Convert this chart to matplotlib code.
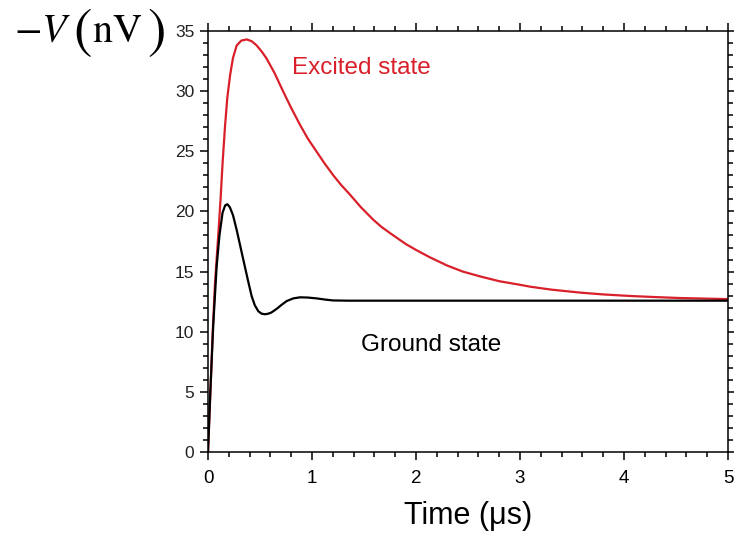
import numpy as np
import matplotlib
matplotlib.use('Agg')
import matplotlib.pyplot as plt
from matplotlib.ticker import MultipleLocator

plt.rcParams['font.family'] = ['Liberation Sans', 'DejaVu Sans']
plt.rcParams['mathtext.fontset'] = 'stix'

# excited state (red)
t_exc = [0, 0.02, 0.045, 0.067, 0.1, 0.122, 0.14, 0.163, 0.185, 0.212, 0.24, 0.276,
         0.32, 0.372, 0.42, 0.468, 0.52, 0.564, 0.64, 0.724, 0.8, 0.885, 0.96,
         1.045, 1.12, 1.205, 1.28, 1.365, 1.47, 1.59, 1.67, 1.75, 1.9, 2.0, 2.13,
         2.3, 2.45, 2.615, 2.8, 3.0, 3.1, 3.3, 3.58, 3.8, 4.06, 4.3, 4.54, 4.8, 5.0]
v_exc = [0, 4.3, 9.9, 14.0, 18.2, 21.2, 24.0, 27.0, 29.4, 31.3, 32.75, 33.8,
         34.2, 34.3, 34.15, 33.8, 33.25, 32.7, 31.5, 29.95, 28.6, 27.2, 26.05,
         24.96, 24.0, 23.0, 22.2, 21.4, 20.35, 19.3, 18.7, 18.2, 17.3, 16.8, 16.2,
         15.5, 15.0, 14.6, 14.2, 13.9, 13.74, 13.5, 13.25, 13.1, 12.97, 12.88,
         12.8, 12.75, 12.71]

# ground state (black)
t_gnd = [0, 0.02, 0.05, 0.083, 0.11, 0.14, 0.165, 0.186, 0.21, 0.24, 0.276, 0.316,
         0.356, 0.39, 0.42, 0.45, 0.484, 0.515, 0.548, 0.58, 0.61, 0.66, 0.71,
         0.757, 0.82, 0.885, 0.96, 1.045, 1.12, 1.2, 1.35, 1.5, 5.0]
v_gnd = [0, 4.5, 10.5, 15.4, 18.0, 19.9, 20.5, 20.6, 20.35, 19.7, 18.45, 16.9,
         15.35, 14.05, 12.95, 12.2, 11.7, 11.5, 11.45, 11.5, 11.6, 11.9, 12.25,
         12.55, 12.77, 12.86, 12.84, 12.77, 12.68, 12.6, 12.58, 12.58, 12.58]

fig = plt.figure(figsize=(7.34, 5.34), dpi=100)
ax = fig.add_axes([208/734, 1 - 452/534, 520/734, 421/534])

ax.plot(t_exc, v_exc, color='#d9202a', lw=1.6)
ax.plot(t_gnd, v_gnd, color='black', lw=1.6)

ax.set_xlim(0, 5)
ax.set_ylim(0, 35)
ax.xaxis.set_major_locator(MultipleLocator(1))
ax.xaxis.set_minor_locator(MultipleLocator(0.2))
ax.yaxis.set_major_locator(MultipleLocator(5))
ax.yaxis.set_minor_locator(MultipleLocator(1))

ax.tick_params(which='both', direction='out', top=True, right=True, width=1.1, color='black')
ax.tick_params(which='major', length=5.8)
ax.tick_params(which='minor', length=3.6)
ax.tick_params(axis='x', labelsize=13.5, pad=7)
ax.tick_params(axis='y', labelsize=12.5, pad=4, labelcolor='#222222')
for s in ax.spines.values():
    s.set_linewidth(1.1)

ax.set_xlabel('Time (\u03bcs)', fontsize=22, labelpad=10)

ax.text(1.478, 31.9, 'Excited state', color='#d9202a', fontsize=17.5,
        ha='center', va='center')
ax.text(2.148, 8.9, 'Ground state', color='black', fontsize=17.5,
        ha='center', va='center')

# y label: -V (nV) with tall brackets, placed at the top left
fig.text(14/734, 1 - 42/534, r'$-V$', fontsize=29, ha='left', va='baseline')
fig.text(73/734, 1 - 34/534, '(', fontsize=40, family='STIXGeneral', ha='left', va='center')
fig.text(92/734, 1 - 42/534, r'$\mathrm{nV}$', fontsize=29, ha='left', va='baseline')
fig.text(147/734, 1 - 34/534, ')', fontsize=40, family='STIXGeneral', ha='left', va='center')

fig.savefig('out.png', dpi=100)
